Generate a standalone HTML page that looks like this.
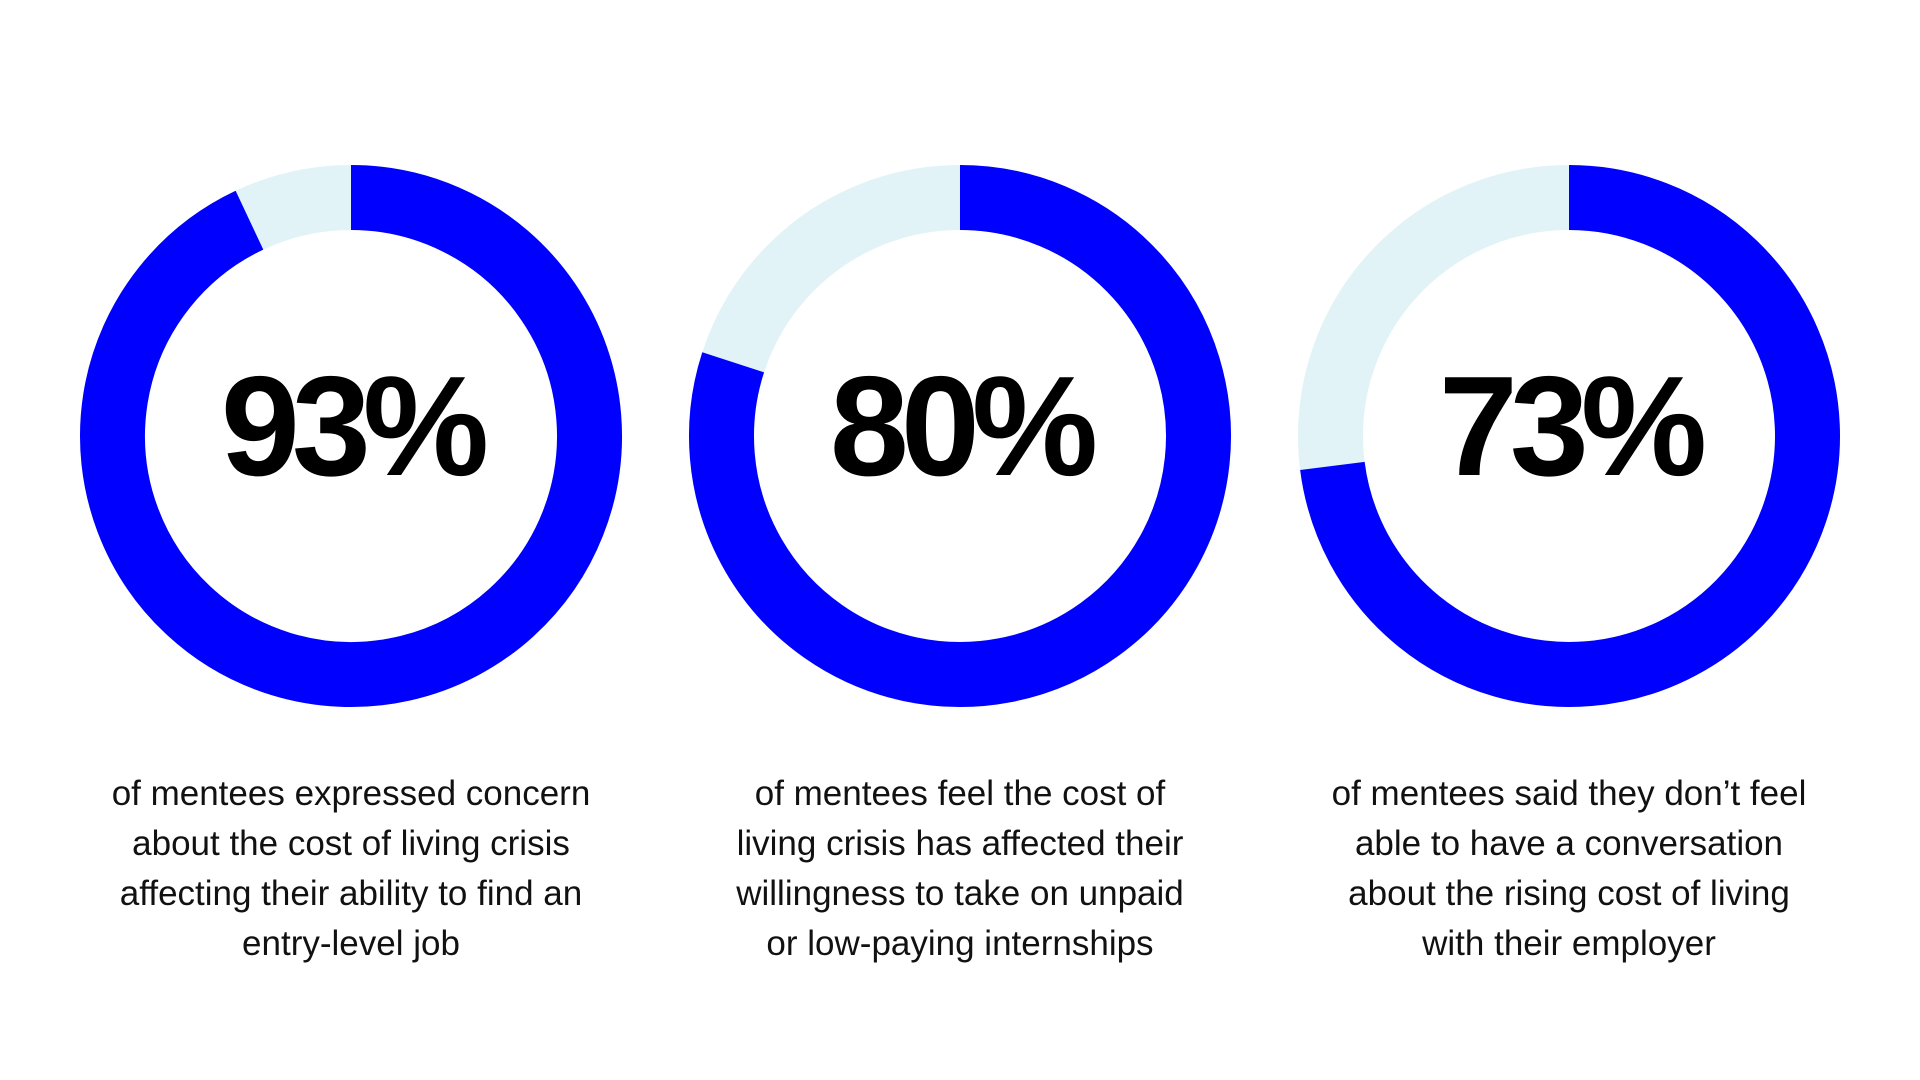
<!DOCTYPE html>
<html><head><meta charset="utf-8"><style>
html,body{margin:0;padding:0;background:#fff;width:1920px;height:1080px;overflow:hidden}
svg{display:block}
.cap{font-family:"Liberation Sans",sans-serif;font-size:35px;fill:#111}
.pct{font-family:"Liberation Sans",sans-serif;font-weight:bold;font-size:142px;fill:#000;letter-spacing:-8px}
</style></head><body>
<svg id="chart" width="1920" height="1080" viewBox="0 0 1920 1080"></svg>
<script>
const values = [93, 80, 73];
const labels = ["93%", "80%", "73%"];
const captions = [
 ["of mentees expressed concern","about the cost of living crisis","affecting their ability to find an","entry-level job"],
 ["of mentees feel the cost of","living crisis has affected their","willingness to take on unpaid","or low-paying internships"],
 ["of mentees said they don\u2019t feel","able to have a conversation","about the rising cost of living","with their employer"]
];
const NS="http://www.w3.org/2000/svg";
const svg=document.getElementById('chart');
const centersX=[351,960,1569], cy=436, R=238.5, W=65;
function pt(cx,a){return [cx+R*Math.sin(a), cy-R*Math.cos(a)];}
values.forEach((v,i)=>{
  const cx=centersX[i];
  const g=document.createElementNS(NS,'g');
  
  
  svg.appendChild(g);
  const bg=document.createElementNS(NS,'circle');
  
  
  bg.setAttribute('cx',cx);bg.setAttribute('cy',cy);bg.setAttribute('r',R);
  bg.setAttribute('fill','none');bg.setAttribute('stroke','#e1f3f7');bg.setAttribute('stroke-width',W);
  g.appendChild(bg);
  const a=v/100*2*Math.PI;
  const [x0,y0]=pt(cx,0),[x1,y1]=pt(cx,a);
  const p=document.createElementNS(NS,'path');
  
  
  p.setAttribute('d',`M${x0},${y0} A${R},${R} 0 ${v>50?1:0} 1 ${x1},${y1}`);
  p.setAttribute('fill','none');p.setAttribute('stroke','#0000ff');p.setAttribute('stroke-width',W);
  g.appendChild(p);
  const t=document.createElementNS(NS,'text');
  
  
  t.setAttribute('class','pct');t.setAttribute('x',cx);t.setAttribute('y',475);
  t.setAttribute('text-anchor','middle');t.textContent=labels[i];
  g.appendChild(t);
  captions[i].forEach((line,j)=>{
    const c=document.createElementNS(NS,'text');
    
    
    c.setAttribute('class','cap');c.setAttribute('x',cx);c.setAttribute('y',805+j*50);
    c.setAttribute('text-anchor','middle');c.textContent=line;
    g.appendChild(c);
  });
});
</script>
</body></html>
